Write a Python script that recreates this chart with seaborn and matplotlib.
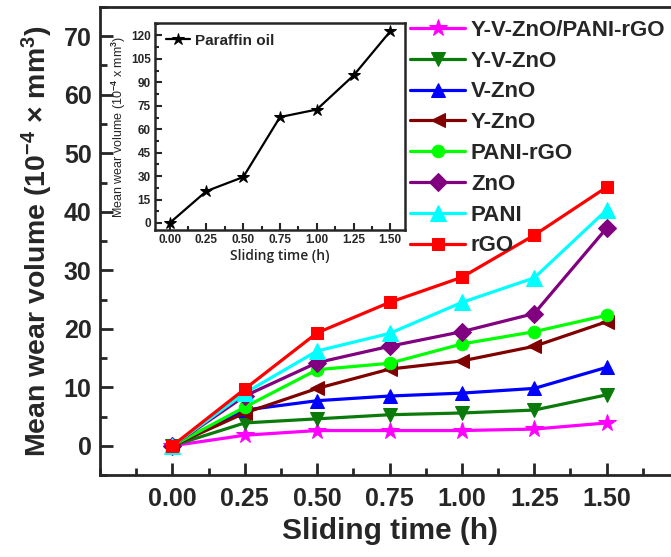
import numpy as np
import pandas as pd
import seaborn as sns
import matplotlib
matplotlib.use("Agg")
import matplotlib.pyplot as plt
from matplotlib.ticker import MultipleLocator

sns.set_style("ticks")
plt.rcParams['font.family'] = ['Liberation Sans', 'DejaVu Sans']
plt.rcParams['mathtext.fontset'] = 'custom'
plt.rcParams['mathtext.rm'] = 'Liberation Sans:bold'
plt.rcParams['mathtext.it'] = 'Liberation Sans:bold'
plt.rcParams['mathtext.bf'] = 'Liberation Sans:bold'

# sliding time (h)
time_h = [0.00, 0.25, 0.50, 0.75, 1.00, 1.25, 1.50]

# mean wear volume (1e-4 mm^3) for each sample
yvzno_pani_rgo = [0.0, 1.8, 2.6, 2.6, 2.6, 2.85, 3.9]
yvzno = [0.0, 3.9, 4.6, 5.3, 5.6, 6.1, 8.7]
vzno = [0.0, 6.1, 7.7, 8.5, 9.0, 9.8, 13.4]
yzno = [0.0, 5.6, 9.8, 13.1, 14.5, 17.0, 21.2]
pani_rgo = [0.0, 6.6, 13.0, 14.1, 17.4, 19.5, 22.3]
zno = [0.0, 8.5, 14.2, 17.0, 19.5, 22.6, 37.2]
pani = [0.0, 9.0, 16.2, 19.2, 24.5, 28.7, 40.3]
rgo = [0.0, 9.7, 19.3, 24.5, 28.8, 36.0, 44.2]

# inset: paraffin oil
paraffin = [0.0, 20.4, 29.4, 67.8, 72.6, 94.4, 122.7]

labels = ["Y-V-ZnO/PANI-rGO", "Y-V-ZnO", "V-ZnO", "Y-ZnO",
          "PANI-rGO", "ZnO", "PANI", "rGO"]
series = [yvzno_pani_rgo, yvzno, vzno, yzno, pani_rgo, zno, pani, rgo]
colors = ["#FF00FF", "#0A7A0A", "#0000FF", "#800000",
          "#00FF00", "#800080", "#00FFFF", "#FF0000"]
markers = ["*", "v", "^", "<", "o", "D", "^", "s"]
msizes = [13, 10, 10, 10, 9, 9, 11, 9]

fig = plt.figure(figsize=(6.71, 5.57), dpi=100)
ax = fig.add_axes([100 / 671, 1 - 475 / 557, 579 / 671, 468 / 557])

for lab, vals, c, m, ms in zip(labels, series, colors, markers, msizes):
    sns.lineplot(x=time_h, y=vals, ax=ax, color=c, marker=m, markersize=ms,
                 markeredgecolor=c, linewidth=2.3, label=lab)

ax.set_xlim(-0.25, 1.75)
ax.set_ylim(-5, 75)
ax.set_xticks(time_h)
ax.xaxis.set_minor_locator(MultipleLocator(0.125))
ax.yaxis.set_major_locator(MultipleLocator(10))
ax.yaxis.set_minor_locator(MultipleLocator(5))
ax.tick_params(which='both', direction='in', width=2, labelsize=18)
ax.tick_params(which='major', length=9)
ax.tick_params(which='minor', length=5)
ax.tick_params(axis='x', pad=9)
ax.tick_params(axis='y', pad=6)
for t in ax.get_xticklabels() + ax.get_yticklabels():
    t.set_fontweight('bold')
for s in ax.spines.values():
    s.set_linewidth(2)
ax.set_xlabel("Sliding time (h)", fontsize=21.5, fontweight='bold', labelpad=4)
ax.set_ylabel(r"Mean wear volume (10$^{-4}$ $\times$ mm$^{3}$)", fontsize=20.5,
              fontweight='bold', labelpad=6)

leg = ax.legend(loc='upper left', bbox_to_anchor=(401 / 671, 1 - 11 / 557),
                bbox_transform=fig.transFigure, frameon=False,
                prop={'weight': 'bold', 'size': 16}, handlelength=2.5,
                handletextpad=0.25, labelspacing=0.44, borderaxespad=0)

# inset
ins = fig.add_axes([155 / 671, 1 - 230 / 557, 250 / 671, 207 / 557])
sns.lineplot(x=time_h, y=paraffin, ax=ins, color='black', marker='*',
             markersize=9, markeredgecolor='black', markerfacecolor='black',
             linewidth=1.6, label="Paraffin oil")
ins.set_xlim(-0.1, 1.6)
ins.set_ylim(-4.5, 128)
ins.set_xticks(time_h)
ins.xaxis.set_minor_locator(MultipleLocator(0.125))
ins.yaxis.set_major_locator(MultipleLocator(15))
ins.yaxis.set_minor_locator(MultipleLocator(7.5))
ins.tick_params(which='both', direction='in', width=1.5, labelsize=8.5, pad=3)
ins.tick_params(which='major', length=5)
ins.tick_params(which='minor', length=3)
for t in ins.get_xticklabels() + ins.get_yticklabels():
    t.set_fontweight('bold')
for s in ins.spines.values():
    s.set_linewidth(1.8)
ins.set_xlabel("Sliding time (h)", fontsize=10, family='Open Sans',
               fontweight='semibold', labelpad=2)
ins.set_ylabel("Mean wear volume (10$^{-4}$ x mm$^3$)", fontsize=9,
               fontweight='normal', labelpad=2)
ins.legend(loc='upper left', frameon=False, prop={'weight': 'bold', 'size': 11},
           handlelength=1.6, handletextpad=0.3, borderaxespad=0.3)

fig.savefig("out.png", dpi=100)
